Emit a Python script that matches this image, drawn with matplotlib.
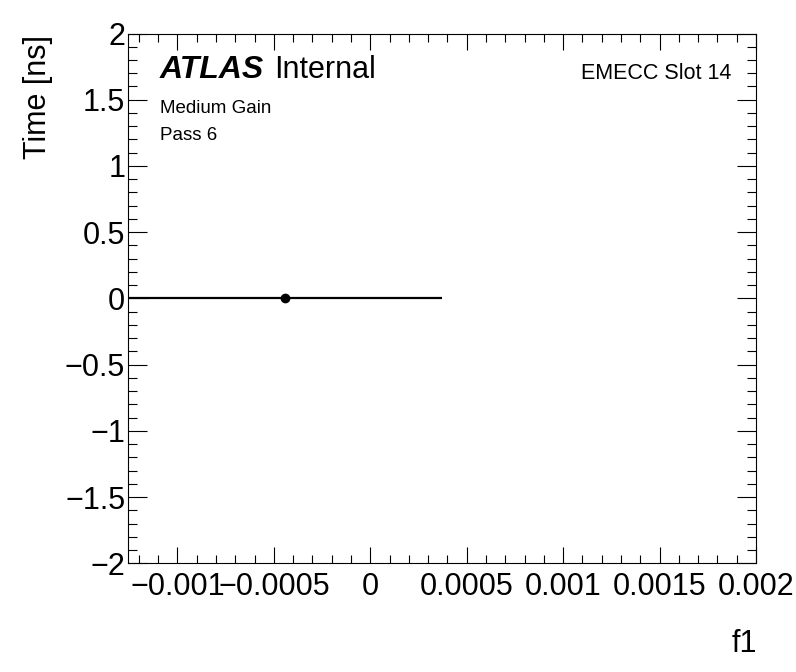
import matplotlib
matplotlib.use("Agg")
import matplotlib.pyplot as plt
from matplotlib.ticker import MultipleLocator

plt.rcParams['font.family'] = ['Liberation Sans', 'DejaVu Sans']

# data
x_vals = [-0.000443]
y_vals = [0.0]
x_errs = [0.000813]
y_errs = [0.0]

x_ticks = [-0.001, -0.0005, 0.0, 0.0005, 0.001, 0.0015, 0.002]
x_ticklabels = ["\u22120.001", "\u22120.0005", "0", "0.0005", "0.001", "0.0015", "0.002"]
y_ticks = [-2, -1.5, -1, -0.5, 0, 0.5, 1, 1.5, 2]
y_ticklabels = ["\u22122", "\u22121.5", "\u22121", "\u22120.5", "0", "0.5", "1", "1.5", "2"]

W, H = 796, 672
fig = plt.figure(figsize=(W / 100, H / 100), dpi=100)

def fx(px):
    return px / W

def fy(py):
    return 1 - py / H

left, right, top, bottom = 128, 756, 33.5, 563.3
ax = fig.add_axes([fx(left), fy(bottom), fx(right) - fx(left), fy(top) - fy(bottom)])

ax.errorbar(x_vals, y_vals, xerr=x_errs, yerr=y_errs, fmt='o', color='black',
            markersize=6, elinewidth=1.6, capsize=0)

ax.set_xlim(-0.001256, 0.002)
ax.set_ylim(-2, 2)

ax.set_xticks(x_ticks)
ax.set_xticklabels(x_ticklabels)
ax.set_yticks(y_ticks)
ax.set_yticklabels(y_ticklabels)
ax.xaxis.set_minor_locator(MultipleLocator(0.0001))
ax.yaxis.set_minor_locator(MultipleLocator(0.1))

ax.tick_params(axis='x', which='major', direction='in', length=11.4, width=0.8,
               top=True, bottom=True, labelsize=22, pad=6)
ax.tick_params(axis='x', which='minor', direction='in', length=5.7, width=0.8,
               top=True, bottom=True)
ax.tick_params(axis='y', which='major', direction='in', length=13.5, width=0.8,
               left=True, right=True, labelsize=22, pad=2)
ax.tick_params(axis='y', which='minor', direction='in', length=6.8, width=0.8,
               left=True, right=True)
for s in ax.spines.values():
    s.set_linewidth(0.8)

fig.text(fx(38), fy(35), "Time [ns]", rotation=90, ha='center', va='top', fontsize=22)
fig.text(fx(757), fy(652), "f1", ha='right', va='baseline', fontsize=22)

fig.text(fx(160), fy(78.5), "ATLAS", fontsize=23, fontweight='bold', fontstyle='italic',
         ha='left', va='baseline')
fig.text(fx(274), fy(78.5), "Internal", fontsize=22, ha='left', va='baseline')
fig.text(fx(160), fy(113.3), "Medium Gain", fontsize=13.5, ha='left', va='baseline')
fig.text(fx(160), fy(140), "Pass 6", fontsize=13.5, ha='left', va='baseline')
fig.text(fx(731), fy(79.3), "EMECC Slot 14", fontsize=15.5, ha='right', va='baseline')

fig.savefig("out.png", dpi=100)
